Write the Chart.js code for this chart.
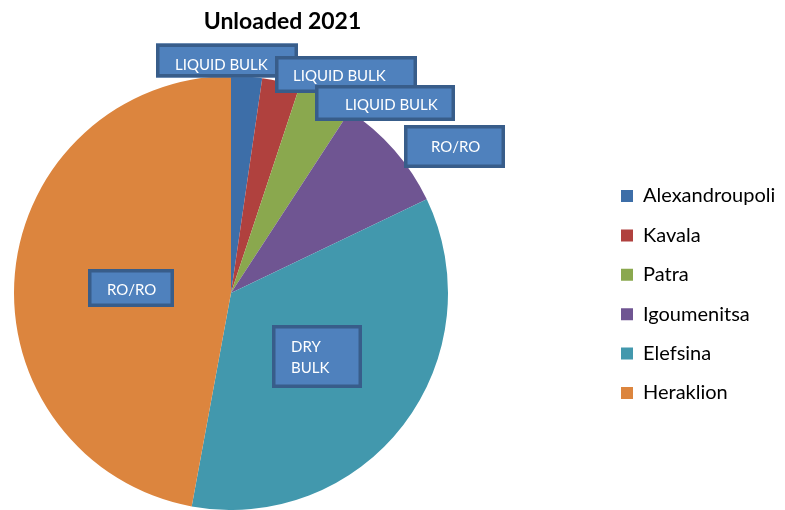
<!DOCTYPE html>
<html>
<head>
<meta charset="utf-8">
<script src="https://cdn.jsdelivr.net/npm/chart.js@4"></script>
<style>
  html, body { margin: 0; padding: 0; background: #fff; }
</style>
</head>
<body>
<canvas id="unloadedChart" width="785" height="510"></canvas>
<script>
// data (share of unloaded cargo, %)
const ports = ['Alexandroupoli', 'Kavala', 'Patra', 'Igoumenitsa', 'Elefsina', 'Heraklion'];
const unloaded2021 = [2.3, 2.8, 4.1, 8.7, 35.0, 47.1];
const cargoType = [['LIQUID BULK'], ['LIQUID BULK'], ['LIQUID BULK'], ['RO/RO'], ['DRY', 'BULK'], ['RO/RO']];
const sliceColors = ['#3d6ea8', '#b0413e', '#8aa84e', '#6f5592', '#4298ad', '#dc853e'];

// where the cargo-type boxes sit, relative to the pie centre
const labelBoxes = [
  { left: -75, top: -249.5, w: 142, h: 34, tx: 19, ty: [21] },
  { left: 44,  top: -237,   w: 142, h: 37, tx: 18, ty: [20] },
  { left: 84,  top: -208,   w: 140, h: 36, tx: 30, ty: [20] },
  { left: 173, top: -168,   w: 101, h: 43, tx: 27, ty: [21.5] },
  { left: 41,  top: 32,     w: 90,  h: 63, tx: 19, ty: [22, 43] },
  { left: -143, top: -24,   w: 86,  h: 38, tx: 19, ty: [21] }
];

const LEGEND_BOX_LEFT = 621;
const LEGEND_PAD = 19.4;
const LEGEND_SHIFT_Y = 39.5;

// chart area ends at 462 so the pie sits where excel put it
const layoutFix = {
  id: 'layoutFix',
  beforeInit(chart) {
    const lg = chart.legend;
    const fit = lg.fit.bind(lg);
    lg.fit = function () { fit(); this.width = 785 - 462; };
  },
  afterLayout(chart) {
    const lg = chart.legend;
    const w = lg.right - lg.left;
    lg.left = LEGEND_BOX_LEFT - LEGEND_PAD;
    lg.right = lg.left + w;
    lg.top += LEGEND_SHIFT_Y;
    lg.bottom += LEGEND_SHIFT_Y;
    chart.titleBlock.left = 0;
    chart.titleBlock.right = 565;
  }
};

const cargoLabels = {
  id: 'cargoLabels',
  afterDatasetsDraw(chart) {
    const ctx = chart.ctx;
    const arcs = chart.getDatasetMeta(0).data;
    ctx.save();
    ctx.font = '15px Lato';
    ctx.textBaseline = 'alphabetic';
    ctx.textAlign = 'left';
    arcs.forEach((arc, i) => {
      const b = labelBoxes[i];
      const x = arc.x + b.left, y = arc.y + b.top;
      ctx.fillStyle = '#4f81bd';
      ctx.fillRect(x, y, b.w, b.h);
      ctx.lineWidth = 3.5;
      ctx.strokeStyle = '#385d8a';
      ctx.strokeRect(x + 1.75, y + 1.75, b.w - 3.5, b.h - 3.5);
      ctx.fillStyle = '#ffffff';
      cargoType[i].forEach((line, k) => {
        ctx.fillText(line, x + b.tx, y + b.ty[k] + 5.4);
      });
    });
    ctx.restore();
  }
};

new Chart(document.getElementById('unloadedChart'), {
  type: 'pie',
  data: {
    labels: ports,
    datasets: [{
      data: unloaded2021,
      backgroundColor: sliceColors,
      borderWidth: 0,
      hoverOffset: 0
    }]
  },
  options: {
    responsive: false,
    animation: false,
    events: [],
    layout: { padding: 0 },
    plugins: {
      title: {
        display: true,
        text: 'Unloaded 2021',
        color: '#000',
        font: { family: 'Lato', size: 23, weight: 'bold' },
        padding: { top: 8, bottom: 40.4 }
      },
      legend: {
        position: 'right',
        labels: {
          color: '#000',
          font: { family: 'Lato', size: 20 },
          boxWidth: 12,
          boxHeight: 12,
          padding: LEGEND_PAD
        }
      },
      tooltip: { enabled: false }
    }
  },
  plugins: [layoutFix, cargoLabels]
});
</script>
</body>
</html>
